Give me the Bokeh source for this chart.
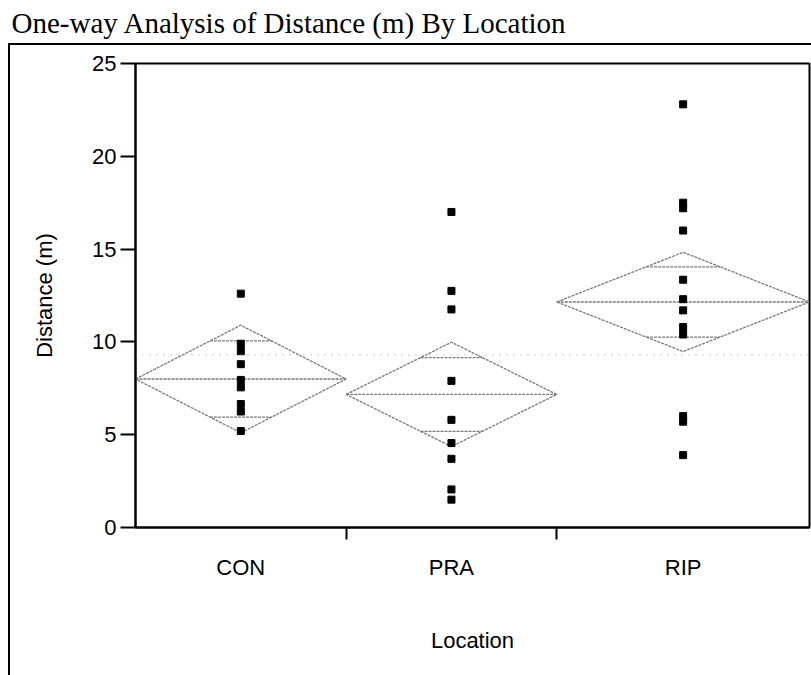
import math
from bokeh.plotting import figure
from bokeh.models import FixedTicker, Range1d, Span, Title
from bokeh.embed import file_html
from bokeh.resources import INLINE

# ---- data ----
categories = ["CON", "PRA", "RIP"]
group_n = [10, 10, 12]
con_vals = [12.6, 9.9, 9.5, 8.8, 7.95, 7.55, 6.65, 6.25, 5.2]
pra_vals = [17.0, 12.75, 11.75, 7.9, 5.8, 4.55, 3.7, 2.05, 1.5]
rip_vals = [22.8, 17.5, 17.2, 16.0, 13.35, 12.3, 11.7, 10.8, 10.4, 6.0, 5.7, 3.9]
group_means = [8.0, 7.17, 12.15]
ci_low = [5.1, 4.36, 9.48]
ci_high = [10.9, 9.98, 14.83]
y_ticks = [0, 5, 10, 15, 20, 25]
title_text = "One-way Analysis of Distance (m) By Location"
x_label = "Location"
y_label = "Distance (m)"

# ---- derived positions ----
bounds = [0]
for n in group_n:
    bounds.append(bounds[-1] + n)
total = bounds[-1]
centers = [(bounds[i] + bounds[i + 1]) / 2 for i in range(len(group_n))]
grand_mean = sum(m * n for m, n in zip(group_means, group_n)) / total

W, H = 811, 675
p = figure(width=W, height=H, output_backend="svg", toolbar_location=None, title=None,
           x_range=Range1d(0, total), y_range=Range1d(0, 25),
           min_border_left=135, min_border_right=2, min_border_top=63, min_border_bottom=148)
p.xgrid.visible = False
p.ygrid.visible = False
p.outline_line_color = "black"
p.outline_line_width = 2
p.background_fill_color = "white"
p.border_fill_color = None
# outer panel frame (left and top rules) drawn as the page background behind the canvas
p.styles = {
    "background-color": "white",
    "background-image": "linear-gradient(black, black), linear-gradient(black, black)",
    "background-size": "2px 640px, 810px 2px",
    "background-position": "8px 43px, 8px 43px",
    "background-repeat": "no-repeat",
}

# title: an empty spacer next to the frame, then the real title above it
spacer = Title(text=" ", text_font_size="15px", standoff=6)
p.add_layout(spacer, "above")
main_title = Title(text=title_text, align="left", text_font="Liberation Serif",
                   text_font_size="29px", text_font_style="normal", text_color="black",
                   offset=-124, standoff=0)
p.add_layout(main_title, "above")

# y axis
ya = p.yaxis[0]
ya.ticker = FixedTicker(ticks=y_ticks)
ya.major_tick_out = 15
ya.major_tick_in = 0
ya.minor_tick_out = 0
ya.minor_tick_in = 0
ya.major_tick_line_width = 2
ya.axis_line_width = 2
ya.major_label_text_font = "Liberation Sans"
ya.major_label_text_font_size = "22px"
ya.major_label_text_color = "black"
ya.major_label_standoff = 4
ya.axis_label = y_label
ya.axis_label_text_font = "Liberation Sans"
ya.axis_label_text_font_size = "22px"
ya.axis_label_text_font_style = "normal"
ya.axis_label_text_color = "black"
ya.axis_label_standoff = 32

# x axis
xa = p.xaxis[0]
xa.ticker = FixedTicker(ticks=centers, minor_ticks=bounds[1:-1])
xa.major_label_overrides = {c: name for c, name in zip(centers, categories)}
xa.major_tick_out = 0
xa.major_tick_in = 0
xa.minor_tick_out = 12
xa.minor_tick_in = 0
xa.minor_tick_line_width = 2
xa.minor_tick_line_color = "black"
xa.axis_line_width = 2
xa.major_label_text_font = "Liberation Sans"
xa.major_label_text_font_size = "22px"
xa.major_label_text_color = "black"
xa.major_label_standoff = 15
xa.axis_label = x_label
xa.axis_label_text_font = "Liberation Sans"
xa.axis_label_text_font_size = "22px"
xa.axis_label_text_font_style = "normal"
xa.axis_label_text_color = "black"
xa.axis_label_standoff = 45

# grand mean line
p.add_layout(Span(location=grand_mean, dimension="width", line_color="#999999",
                  line_width=1, line_dash="1 6"))

# diamonds: outline, mean line, overlap marks
dx, dy = [], []
mx0, mx1, my = [], [], []
ox0, ox1, oy = [], [], []
for i in range(len(categories)):
    l, r, c = bounds[i], bounds[i + 1], centers[i]
    m, lo, hi = group_means[i], ci_low[i], ci_high[i]
    dx.append([l, c, r, c])
    dy.append([m, hi, m, lo])
    mx0.append(l); mx1.append(r); my.append(m)
    hw = (r - l) / 2 * (1 - 1 / math.sqrt(2))
    for yy in (m + (hi - m) / math.sqrt(2), m - (m - lo) / math.sqrt(2)):
        ox0.append(c - hw); ox1.append(c + hw); oy.append(yy)

GRAY = "#7a7a7a"
p.patches(dx, dy, fill_alpha=0, line_color=GRAY, line_width=1.3, line_dash="3 1")
p.segment(x0=mx0, y0=my, x1=mx1, y1=my, line_color=GRAY, line_width=1.3, line_dash="3 1")
p.segment(x0=ox0, y0=oy, x1=ox1, y1=oy, line_color=GRAY, line_width=1.3, line_dash="3 1")

# data points
px, py = [], []
for c, vals in zip(centers, [con_vals, pra_vals, rip_vals]):
    for v in vals:
        px.append(c); py.append(v)
p.scatter(px, py, marker="square", size=7, color="black")

open("out.html", "w").write(file_html(p, INLINE))
